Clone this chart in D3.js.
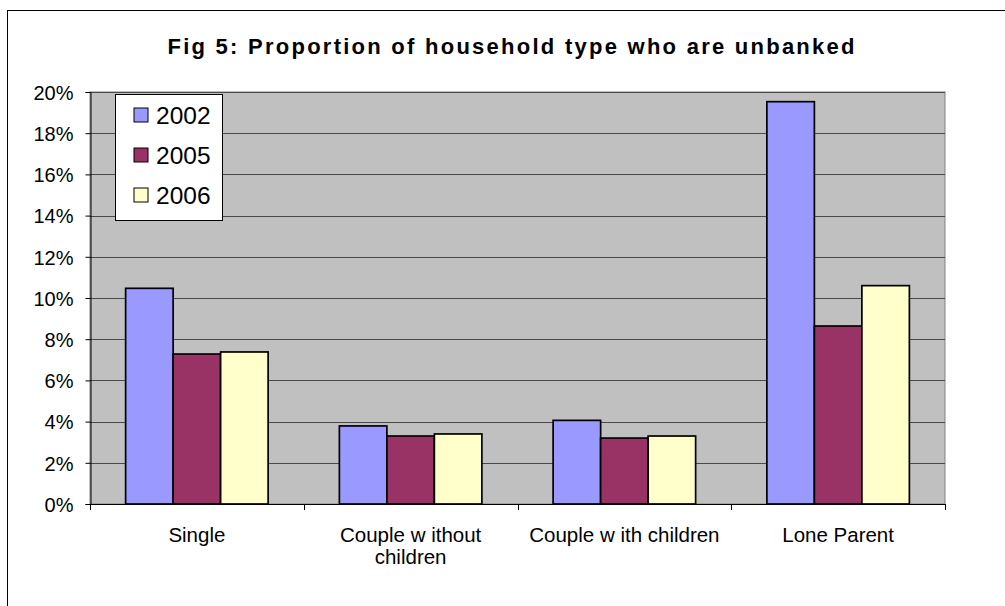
<!DOCTYPE html>
<html><head><meta charset="utf-8">
<script src="https://cdn.jsdelivr.net/npm/d3@7"></script>
<style>body{margin:0;background:#fff}svg{display:block}text{font-family:"Liberation Sans",Arial,sans-serif;fill:#000}</style>
</head><body>
<svg id="c" width="1005" height="606"></svg>
<script>
const categories = ["Single", "Couple w ithout children", "Couple w ith children", "Lone Parent"];
const categoryLines = [["Single"], ["Couple w ithout", "children"], ["Couple w ith children"], ["Lone Parent"]];
const seriesNames = ["2002", "2005", "2006"];
const values2002 = [0.1047, 0.0379, 0.0406, 0.1953];
const values2005 = [0.0728, 0.0330, 0.0320, 0.0864];
const values2006 = [0.0738, 0.0340, 0.0330, 0.1060];
const yTicks = [0, 0.02, 0.04, 0.06, 0.08, 0.10, 0.12, 0.14, 0.16, 0.18, 0.20];
const colors = ["#9999ff", "#993366", "#ffffcc"];
const seriesValues = [values2002, values2005, values2006];

const svg = d3.select("#c");
const L = 90, R = 945, T = 92, B = 504;

// outer border
svg.append("rect").attr("x", 7.5).attr("y", 10.5).attr("width", 1010).attr("height", 620)
  .attr("fill", "#fff").attr("stroke", "#000").attr("stroke-width", 1);

// title
svg.append("text").attr("x", 511).attr("y", 54).attr("text-anchor", "middle")
  .attr("font-size", 22).attr("font-weight", "bold")
  .attr("textLength", 687).attr("lengthAdjust", "spacing")
  .text("Fig 5: Proportion of household type who are unbanked");

const x0 = d3.scaleBand().domain(categories).range([L, R]).padding(0);
const x1 = d3.scaleBand().domain(seriesNames).range([0, x0.bandwidth()]).paddingInner(0).paddingOuter(0.75);
const y = d3.scaleLinear().domain([0, 0.2]).range([B, T]);

// plot area
svg.append("rect").attr("x", L).attr("y", T).attr("width", R - L).attr("height", B - T)
  .attr("fill", "#c0c0c0").attr("stroke", "#808080").attr("stroke-width", 1);

// gridlines
svg.append("g").selectAll("line").data(yTicks.filter(d => d > 0)).join("line")
  .attr("x1", L).attr("x2", R).attr("y1", d => Math.round(y(d)) + 0.5).attr("y2", d => Math.round(y(d)) + 0.5)
  .attr("stroke", "#4a4a4a").attr("stroke-width", 1);

// bars
const groups = svg.append("g").selectAll("g").data(seriesNames).join("g")
  .attr("fill", (d, i) => colors[i]);
groups.selectAll("rect").data((s, i) => categories.map((c, j) => ({c, s, v: seriesValues[i][j]}))).join("rect")
  .attr("x", d => x0(d.c) + x1(d.s))
  .attr("y", d => y(d.v))
  .attr("width", x1.bandwidth())
  .attr("height", d => B - y(d.v))
  .attr("stroke", "#000").attr("stroke-width", 1.7);

// y axis
const yAxis = d3.axisLeft(y).tickValues(yTicks).tickFormat(d3.format(".0%")).tickSize(5).tickPadding(12);
const ya = svg.append("g").attr("transform", `translate(${L + 0.5},0)`).call(yAxis);
ya.select(".domain").attr("stroke", "#000");
ya.selectAll(".tick line").attr("stroke", "#000");
ya.selectAll(".tick text").attr("font-size", 20).attr("font-family", '"Liberation Sans",Arial,sans-serif').attr("fill", "#000").attr("dy", "0.36em");

// x axis line and ticks at category boundaries
svg.append("line").attr("x1", L).attr("x2", R + 1).attr("y1", B + 0.5).attr("y2", B + 0.5).attr("stroke", "#000");
const bounds = categories.map(c => x0(c)).concat([R]);
svg.append("g").selectAll("line").data(bounds).join("line")
  .attr("x1", d => Math.round(d) + 0.5).attr("x2", d => Math.round(d) + 0.5)
  .attr("y1", B).attr("y2", B + 6).attr("stroke", "#000");

// category labels
const cl = svg.append("g").selectAll("text").data(categories).join("text")
  .attr("x", d => x0(d) + x0.bandwidth() / 2).attr("y", 542)
  .attr("text-anchor", "middle").attr("font-size", 20.5);
cl.each(function(d, i) {
  d3.select(this).selectAll("tspan").data(categoryLines[i]).join("tspan")
    .attr("x", x0(d) + x0.bandwidth() / 2).attr("dy", (t, k) => k === 0 ? 0 : 22).text(t => t);
});

// legend
const lg = svg.append("g");
lg.append("rect").attr("x", 115.5).attr("y", 94.5).attr("width", 107).attr("height", 126)
  .attr("fill", "#fff").attr("stroke", "#000").attr("stroke-width", 1);
const ly = d3.scalePoint().domain(seriesNames).range([115, 195]);
lg.selectAll("rect.sw").data(seriesNames).join("rect").attr("class", "sw")
  .attr("x", 134).attr("y", d => ly(d) - 7).attr("width", 14).attr("height", 14)
  .attr("fill", (d, i) => colors[i]).attr("stroke", "#000").attr("stroke-width", 1);
lg.selectAll("text").data(seriesNames).join("text")
  .attr("x", 156).attr("y", d => ly(d) + 8.5).attr("font-size", 24.5).text(d => d);
</script>
</body></html>
